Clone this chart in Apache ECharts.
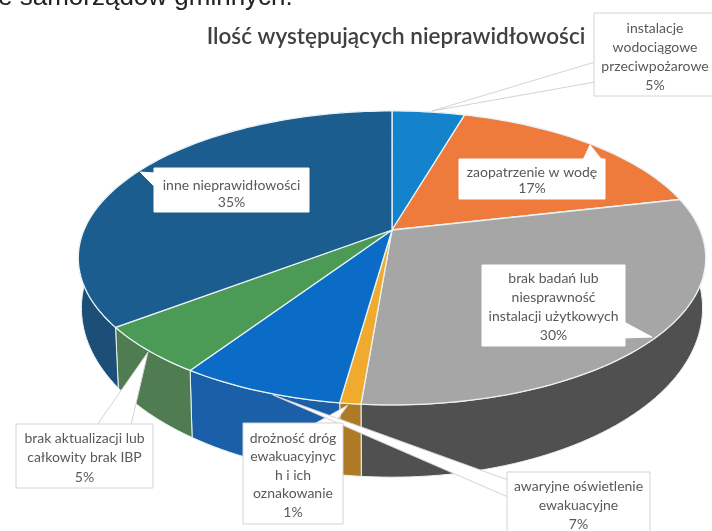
<!DOCTYPE html>
<html><head><meta charset="utf-8">
<style>html,body{margin:0;padding:0;background:#fff}#c{width:712px;height:531px}</style>
<script src="https://cdn.jsdelivr.net/npm/echarts@6/dist/echarts.min.js"></script>
</head><body><div id="c"></div>
<script>
const categories = ['instalacje wodociągowe przeciwpożarowe','zaopatrzenie w wodę','brak badań lub niesprawność instalacji użytkowych','drożność dróg ewakuacyjnych i ich oznakowanie','awaryjne oświetlenie ewakuacyjne','brak aktualizacji lub całkowity brak IBP','inne nieprawidłowości'];
const shares = [4.5,16.9,29.9,0.9,7.1,5.3,35.4];
const shareLabels = ['5%','17%','30%','1%','7%','5%','35%'];
const topColors = ['#1583cb','#ee7a3b','#a6a6a6','#f0ab2e','#0a6cc6','#4b9a56','#1a5d8e'];
const wallColors = ['#0f5f94','#a85427','#505050','#ae7a26','#1b5fa8','#4f7c50','#1b4f78'];

const CX=392, CY=230, B=308, A=141.7, K=0.19;
function project(deg, bottom){
  const t=deg*Math.PI/180, u=Math.sin(t), v=-Math.cos(t), w=1-K*v;
  const X=B*u/w, Y=A*v/w;
  return bottom ? [CX+X*0.99, CY+46+Y*1.15] : [CX+X, CY+Y];
}
function arc(a,b,bottom){
  const pts=[], n=Math.max(2,Math.ceil((b-a)/1.5));
  for(let i=0;i<=n;i++) pts.push(project(a+(b-a)*i/n,bottom));
  return pts;
}
let acc=0;
const rows=shares.map((s,i)=>{const r=[acc/100*360,(acc+s)/100*360,i];acc+=s;return r;});

function renderTop(p,api){
  const a=api.value(0), b=api.value(1), i=api.value(2);
  return {type:'polygon',shape:{points:[[CX,CY]].concat(arc(a,b,false))},
    style:{fill:topColors[i],stroke:'#e9f3f6',lineWidth:1.3,lineJoin:'round'}};
}
function renderWall(p,api){
  const a=api.value(0), b=api.value(1), i=api.value(2);
  return {type:'polygon',shape:{points:arc(a,b,false).concat(arc(a,b,true).reverse())},
    style:{fill:wallColors[i],stroke:'#e9f3f6',lineWidth:1}};
}
const grayBorder='#d4d4d4';
function callout(box,tail,lines,bordered,lh,y0){
  const els=[];
  els.push({type:'polygon',z:10,shape:{points:tail},style:{fill:'#fff',stroke:bordered?grayBorder:'#fff',lineWidth:1}});
  els.push({type:'rect',z:11,shape:{x:box[0],y:box[1],width:box[2],height:box[3]},style:{fill:'#fff',stroke:bordered?grayBorder:'#fff',lineWidth:1}});
  lines.forEach((t,k)=>els.push({type:'text',z:12,x:box[0]+box[2]/2,y:y0+k*lh,
    style:{text:t,fill:'#595959',font:'14px Lato',textAlign:'center',textVerticalAlign:'middle'}}));
  return els;
}
const graphics=[
  {type:'text',x:-2,y:11,style:{text:'e samorządów gminnych.',fill:'#222',font:'26px "Liberation Sans"',textAlign:'left',textVerticalAlign:'bottom'}},
  {type:'text',x:396,y:37,style:{text:'Ilość występujących nieprawidłowości',fill:'#404040',font:'600 22.5px Lato',textAlign:'center',textVerticalAlign:'middle'}},
  ...callout([594,13,122,83],[[595,62],[432,111],[595,82]],['instalacje','wodociągowe','przeciwpożarowe',shareLabels[0]],true,19,28),
  ...callout([459,159,146,40],[[583,160],[590,145],[602,160]],['zaopatrzenie w wodę',shareLabels[1]],false,16.5,172),
  ...callout([154,168,155,44],[[155,173],[140,172],[155,187]],['inne nieprawidłowości',shareLabels[6]],false,17,185),
  ...callout([482,265,143,81],[[624,322],[652,337],[624,338]],['brak badań lub','niesprawność','instalacji użytkowych',shareLabels[2]],false,19.3,278),
  ...callout([16,424,137,64],[[97,425],[148,352],[135,408],[131,425]],['brak aktualizacji lub','całkowity brak IBP',shareLabels[5]],true,19.5,438),
  ...callout([243,423,100,101],[[314,424],[348,405],[334,424]],['drożność dróg','ewakuacyjnyc','h i ich','oznakowanie',shareLabels[3]],true,18.5,438),
  ...callout([507,472,143,70],[[508,480],[273,395],[508,497]],['awaryjne oświetlenie','ewakuacyjne',shareLabels[4]],true,19,486)
];
const chart=echarts.init(document.getElementById('c'),null,{renderer:'canvas'});
chart.setOption({
  animation:false,backgroundColor:'#fff',
  graphic:{elements:graphics},
  series:[
    {type:'custom',coordinateSystem:'none',z:1,renderItem:renderWall,data:rows,silent:true},
    {type:'custom',coordinateSystem:'none',z:2,renderItem:renderTop,data:rows,silent:true}
  ]
});
</script></body></html>
